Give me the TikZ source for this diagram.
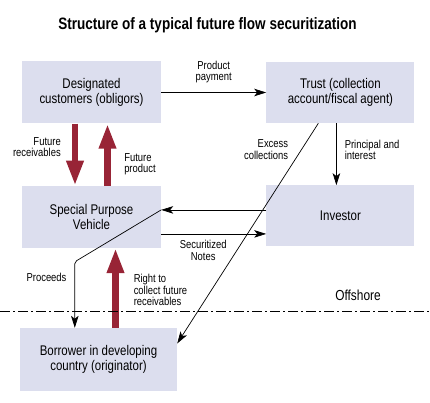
\documentclass[tikz,border=0pt]{standalone}
\usepackage{fontspec}
\setmainfont{Liberation Sans}[FakeStretch=0.82]
\usetikzlibrary{arrows.meta, positioning, calc}
\definecolor{boxfill}{RGB}{220,222,238}
\definecolor{flowred}{RGB}{152,36,54}

\begin{document}
\begin{tikzpicture}[x=1pt, y=-1pt, node distance=62pt,
  box/.style={fill=boxfill, minimum width=139pt, minimum height=62pt, inner sep=0pt,
              align=center, font=\fontsize{14}{15}\selectfont},
  lbl/.style={inner sep=0pt, font=\fontsize{11.5}{11.5}\selectfont},
  link/.style={-{Stealth[length=12pt, width=7.5pt, inset=3pt]}, line width=0.7pt},
  bigarrow/.style={-{Triangle[length=25pt, width=16pt]}, line width=6.5pt, draw=flowred}]
  \useasboundingbox (0,0) rectangle (430,403);

  \node[anchor=base, font=\fontsize{16.5}{18}\selectfont\bfseries] (title) at (207.5,29.3)
    {Structure of a typical future flow securitization};

  \node[box] (dc) at (91.5,92.5) {Designated\\customers (obligors)};
  \node[box, minimum width=148pt, minimum height=61pt, right=105pt of dc] (trust)
    {Trust (collection\\account/fiscal agent)};
  \node[box, below=of dc] (spv) {Special Purpose\\Vehicle};
  \node[box, minimum width=148pt, minimum height=61pt, below=of trust] (inv) {Investor};
  \node[box, minimum width=157pt, minimum height=63pt] (bor) at (98.5,359.5)
    {Borrower in developing\\country (originator)};

  \coordinate[yshift=6pt] (invw) at (inv.west);
  \coordinate (pin) at (invw -| spv.east);
  \coordinate[yshift=-17pt] (spve) at (spv.east);

  % thin flows
  \draw[link] (dc) -- node[lbl, above=9pt, align=center] {Product\\payment} (trust);
  \draw[link] ([xshift=-4pt]trust.south) -- node[lbl, right=8pt, pos=0.43, align=left]
    {Principal and\\interest} ([xshift=-4pt]inv.north);
  \draw[link] ([xshift=-22pt]trust.south) -- node[lbl, left=13pt, pos=0.12, align=right]
    {Excess\\collections} ([yshift=16pt]bor.east);
  \draw[link] (invw) -- (pin);
  \draw[link] (spve) -- node[lbl, below=6pt, pos=0.4, align=center]
    {Securitized\\Notes} (spve -| inv.west);
  \draw[link, rounded corners=2pt] (pin) -- ($(bor.north west)+(55,-66)$)
    -- node[lbl, left=8pt, pos=0.23] {Proceeds} ([xshift=55pt]bor.north west);

  % thick flows
  \draw[bigarrow] ([xshift=-16.5pt]dc.south) -- node[lbl, left=11pt, pos=0.38, align=right]
    {Future\\receivables} ([xshift=-16.5pt]spv.north);
  \draw[bigarrow] ([xshift=16pt]spv.north) -- node[lbl, right=13.5pt, pos=0.35, align=left]
    {Future\\product} ([xshift=16pt]dc.south);
  \draw[bigarrow] ([xshift=17pt]bor.north) -- node[lbl, right=15pt, pos=0.47, align=left]
    {Right to\\collect future\\receivables} ([xshift=24pt]spv.south);

  % offshore border
  \draw[line width=0.7pt, dash pattern=on 10pt off 3pt on 2pt off 3pt] (0,311) -- (430,311);
  \node[anchor=base, font=\fontsize{14.5}{16}\selectfont] (off) at (358,300) {Offshore};
\end{tikzpicture}
\end{document}
